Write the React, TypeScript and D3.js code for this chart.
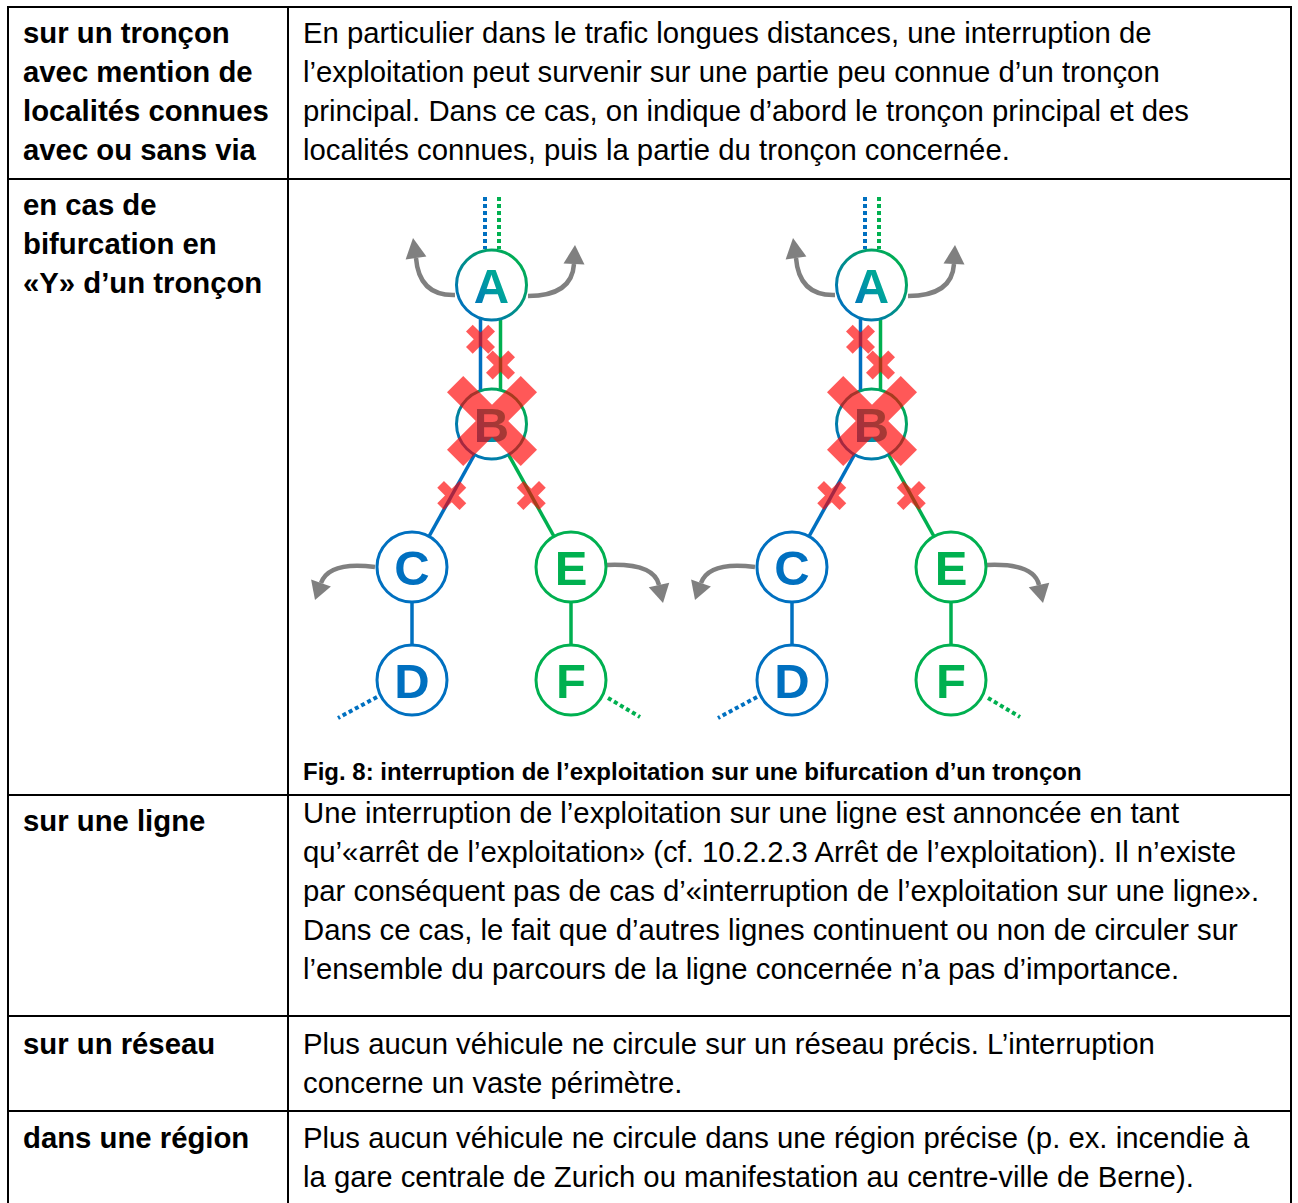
import React from "react";
import * as d3 from "d3";

// ---------- table content ----------
const ROW_LABELS: string[][] = [
  ["sur un tronçon", "avec mention de", "localités connues", "avec ou sans via"],
  ["en cas de", "bifurcation en", "«Y» d’un tronçon"],
  ["sur une ligne"],
  ["sur un réseau"],
  ["dans une région"],
];
const ROW_TEXTS: string[][] = [
  [
    "En particulier dans le trafic longues distances, une interruption de",
    "l’exploitation peut survenir sur une partie peu connue d’un tronçon",
    "principal. Dans ce cas, on indique d’abord le tronçon principal et des",
    "localités connues, puis la partie du tronçon concernée.",
  ],
  [],
  [
    "Une interruption de l’exploitation sur une ligne est annoncée en tant",
    "qu’«arrêt de l’exploitation» (cf. 10.2.2.3 Arrêt de l’exploitation). Il n’existe",
    "par conséquent pas de cas d’«interruption de l’exploitation sur une ligne».",
    "Dans ce cas, le fait que d’autres lignes continuent ou non de circuler sur",
    "l’ensemble du parcours de la ligne concernée n’a pas d’importance.",
  ],
  [
    "Plus aucun véhicule ne circule sur un réseau précis. L’interruption",
    "concerne un vaste périmètre.",
  ],
  [
    "Plus aucun véhicule ne circule dans une région précise (p. ex. incendie à",
    "la gare centrale de Zurich ou manifestation au centre-ville de Berne).",
  ],
];
const CAPTION = "Fig. 8: interruption de l’exploitation sur une bifurcation d’un tronçon";

// ---------- diagram content ----------
const STATIONS = ["A", "B", "C", "D", "E", "F"];
const STATION_COL = [0, 0, -1, -1, 1, 1];
const STATION_LEVEL = [0, 1, 2, 3, 2, 3];
const STATION_LINE = ["both", "both", "blue", "blue", "green", "green"];
const SEGMENTS: [string, string, string][] = [
  ["A", "B", "blue"],
  ["A", "B", "green"],
  ["B", "C", "blue"],
  ["C", "D", "blue"],
  ["B", "E", "green"],
  ["E", "F", "green"],
];
// closures on segments: [segment index, position along segment]
const CLOSURES: [number, number][] = [
  [0, 0.39],
  [1, 0.575],
  [2, 0.5],
  [4, 0.5],
];
const CLOSED_STATIONS = ["B"];
const DIAGRAM_COPIES = [0, 1];

const BLUE = "#0070c0";
const GREEN = "#00b050";
const GREY = "#808080";
const RED = "#ff0000";

const W = 1298;
const H = 1203;
const LEFT = 8;
const MID = 288;
const RIGHT = 1291;
const ROW_TOPS = [7, 179, 795, 1016, 1111];
const LABEL_BASE = [36, 36, 36, 38, 37];
const TEXT_BASE = [36, 36, 28, 38, 37];
const LINE_H = 39;
const FONT = "'Liberation Sans', Arial, Helvetica, sans-serif";

const xDiagram = d3.scaleLinear().domain([0, 1]).range([491.5, 871.5]);
const xCol = d3.scaleLinear().domain([-1, 1]).range([-79.5, 79.5]);
const yLevel = d3.scaleLinear().domain([0, 1, 2, 3]).range([285, 424, 567, 680]);

const R = 35;

function Cross({ cx, cy, half, w }: { cx: number; cy: number; half: number; w: number }) {
  const L = half * Math.SQRT2 * 2 - w;
  return (
    <g transform={`translate(${cx},${cy}) rotate(45)`} opacity={0.65}>
      <rect x={-L / 2} y={-w / 2} width={L} height={w} fill={RED} />
      <rect x={-w / 2} y={-L / 2} width={w} height={L} fill={RED} />
    </g>
  );
}

function Arrow({ pts }: { pts: [number, number][] }) {
  const [s, c, e, t] = pts;
  const p = d3.path();
  p.moveTo(s[0], s[1]);
  p.quadraticCurveTo(c[0], c[1], e[0], e[1]);
  const dx = t[0] - e[0];
  const dy = t[1] - e[1];
  const len = Math.hypot(dx, dy);
  const nx = -dy / len;
  const ny = dx / len;
  const hw = 10.5;
  const head = [
    [t[0], t[1]],
    [e[0] + nx * hw, e[1] + ny * hw],
    [e[0] - nx * hw, e[1] - ny * hw],
  ];
  return (
    <g>
      <path d={p.toString()} fill="none" stroke={GREY} strokeWidth={4.5} />
      <polygon points={head.map((q) => q.join(",")).join(" ")} fill={GREY} />
    </g>
  );
}

function Diagram({ copy }: { copy: number }) {
  const ox = xDiagram(copy);
  const pos = (name: string) => {
    const i = STATIONS.indexOf(name);
    return [ox + xCol(STATION_COL[i]), yLevel(STATION_LEVEL[i])] as [number, number];
  };
  const colorOf = (line: string) => (line === "blue" ? BLUE : line === "green" ? GREEN : `url(#grad${copy})`);
  const parallelOffset = (a: string, b: string, line: string) => {
    const shared = SEGMENTS.filter((s) => s[0] === a && s[1] === b).length > 1;
    if (!shared) return 0;
    return line === "blue" ? -11 : 9;
  };
  const segGeom = SEGMENTS.map(([a, b, line]) => {
    const pa = pos(a);
    const pb = pos(b);
    const off = parallelOffset(a, b, line);
    return { x1: pa[0] + off, y1: pa[1], x2: pb[0] + off, y2: pb[1], color: colorOf(line) };
  });
  const [ax, ay] = pos("A");
  const [cx, cy] = pos("C");
  const [dx, dy] = pos("D");
  const [ex, ey] = pos("E");
  const [fx, fy] = pos("F");
  const dotted = [
    { x1: ax - 6.5, y1: ay - 88, x2: ax - 6.5, y2: ay - 36, c: BLUE },
    { x1: ax + 7.5, y1: ay - 88, x2: ax + 7.5, y2: ay - 36, c: GREEN },
    { x1: dx - 35, y1: dy + 17, x2: dx - 74, y2: dy + 38, c: BLUE },
    { x1: fx + 37, y1: fy + 18, x2: fx + 69, y2: fy + 37, c: GREEN },
  ];
  const arrows: [number, number][][] = [
    [[ax - 36.5, ay + 10], [ax - 72.5, ay + 11], [ax - 75.5, ay - 27], [ax - 78.5, ay - 47]],
    [[ax + 36.5, ay + 11], [ax + 80.5, ay + 11], [ax + 82.5, ay - 21], [ax + 83.5, ay - 40]],
    [[cx - 37, cy], [cx - 83, cy - 6], [cx - 91, cy + 16], [cx - 97, cy + 33]],
    [[ex + 36, ey - 2], [ex + 83, ey - 4], [ex + 88, ey + 18], [ex + 92, ey + 36]],
  ];
  return (
    <g>
      <defs>
        <linearGradient id={`grad${copy}`} x1="0.1" y1="0.9" x2="0.9" y2="0.1">
          <stop offset="0" stopColor={BLUE} />
          <stop offset="1" stopColor={GREEN} />
        </linearGradient>
        <linearGradient id={`gradT${copy}`} x1="0" y1="1" x2="1" y2="0">
          <stop offset="0" stopColor={BLUE} />
          <stop offset="0.6" stopColor="#00a59a" />
          <stop offset="1" stopColor="#00b07a" />
        </linearGradient>
      </defs>
      {dotted.map((l, i) => (
        <line key={`d${i}`} x1={l.x1} y1={l.y1} x2={l.x2} y2={l.y2} stroke={l.c} strokeWidth={4} strokeDasharray="4 3" />
      ))}
      {segGeom.map((s, i) => (
        <line key={`s${i}`} x1={s.x1} y1={s.y1} x2={s.x2} y2={s.y2} stroke={s.color} strokeWidth={3.5} />
      ))}
      {arrows.map((a, i) => (
        <Arrow key={`a${i}`} pts={a} />
      ))}
      {STATIONS.map((name, i) => {
        const [x, y] = pos(name);
        const line = STATION_LINE[i];
        const col = colorOf(line);
        return (
          <g key={name}>
            <circle cx={x} cy={y} r={R} fill="#fff" stroke={col} strokeWidth={3} />
            <text
              x={x}
              y={y + 17.5}
              textAnchor="middle"
              fontFamily={FONT}
              fontWeight="bold"
              fontSize={49}
              fill={line === "both" ? `url(#gradT${copy})` : col}
            >
              {name}
            </text>
          </g>
        );
      })}
      {CLOSURES.map(([si, t], i) => {
        const s = segGeom[si];
        const x = s.x1 + (s.x2 - s.x1) * t;
        const y = s.y1 + (s.y2 - s.y1) * t;
        return <Cross key={`c${i}`} cx={x} cy={y} half={14.5} w={9.5} />;
      })}
      {CLOSED_STATIONS.map((n) => {
        const [x, y] = pos(n);
        return <Cross key={`b${n}`} cx={x + 0.5} cy={y - 3} half={45} w={23} />;
      })}
    </g>
  );
}

export default function App() {
  return (
    <svg
      width={W}
      height={H}
      viewBox={`0 0 ${W} ${H}`}
      style={{ position: "absolute", left: 0, top: 0, background: "#fff" }}
    >
      <rect x={0} y={0} width={W} height={H} fill="#fff" />
      {ROW_TOPS.map((y, i) => (
        <line key={`h${i}`} x1={LEFT - 1} x2={RIGHT + 1} y1={y} y2={y} stroke="#000" strokeWidth={2} />
      ))}
      {[LEFT, MID, RIGHT].map((x, i) => (
        <line key={`v${i}`} x1={x} x2={x} y1={ROW_TOPS[0] - 1} y2={H} stroke="#000" strokeWidth={2} />
      ))}
      {ROW_LABELS.map((lines, r) =>
        lines.map((t, j) => (
          <text
            key={`l${r}-${j}`}
            x={23}
            y={ROW_TOPS[r] + LABEL_BASE[r] + j * LINE_H}
            fontFamily={FONT}
            fontWeight="bold"
            fontSize={29.3}
            fill="#000"
          >
            {t}
          </text>
        ))
      )}
      {ROW_TEXTS.map((lines, r) =>
        lines.map((t, j) => (
          <text
            key={`t${r}-${j}`}
            x={303}
            y={ROW_TOPS[r] + TEXT_BASE[r] + j * LINE_H}
            fontFamily={FONT}
            fontSize={29.3}
            fill="#000"
          >
            {t}
          </text>
        ))
      )}
      {DIAGRAM_COPIES.map((c) => (
        <Diagram key={c} copy={c} />
      ))}
      <text x={303} y={780} fontFamily={FONT} fontWeight="bold" fontSize={24} fill="#000">
        {CAPTION}
      </text>
    </svg>
  );
}
